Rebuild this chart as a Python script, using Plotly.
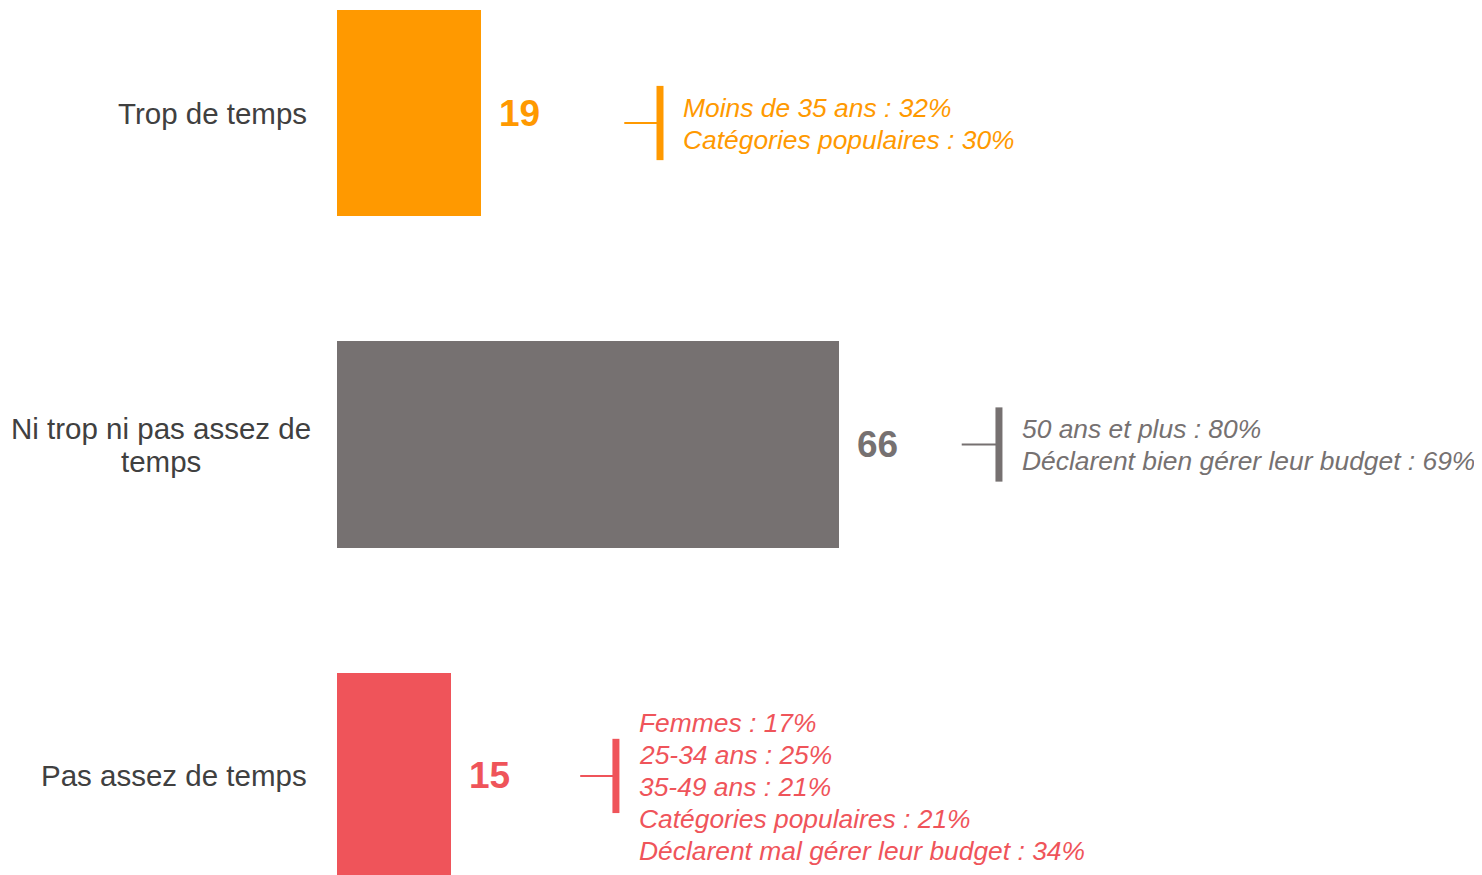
import plotly.graph_objects as go

# ---- data ----
categories = ["Trop de temps", "Ni trop ni pas assez de<br>temps", "Pas assez de temps"]
values = [19, 66, 15]
value_labels = ["19", "66", "15"]
details = [
    ["Moins de 35 ans : 32%", "Catégories populaires : 30%"],
    ["50 ans et plus : 80%", "Déclarent bien gérer leur budget : 69%"],
    ["Femmes : 17%", "25-34 ans : 25%", "35-49 ans : 21%",
     "Catégories populaires : 21%", "Déclarent mal gérer leur budget : 34%"],
]

# ---- styling ----
colors = ["#FF9900", "#767171", "#EF545A"]
label_color = "#404040"
font_family = "Liberation Sans, Arial, sans-serif"
# bracket horizontal start / vertical line x (data units) and y offsets
bracket_x0 = [37.8, 82.2, 32.0]
bracket_x1 = [42.5, 87.1, 36.7]
bracket_dy = [0.03, 0.0, 0.0]
text_dy = [0.033, 0.0, 0.033]
detail_line_px = 32
label_line_px = 33

ypos = list(range(len(categories)))

fig = go.Figure()
fig.add_trace(go.Bar(
    x=values, y=ypos, orientation="h",
    marker=dict(color=colors, line=dict(width=0)),
    width=0.622, hoverinfo="skip",
))

annotations = []
shapes = []
for i, (cat, v, vl, det, c) in enumerate(zip(categories, values, value_labels, details, colors)):
    # category label (one annotation per line for tight line spacing)
    lines = cat.split("<br>")
    n = len(lines)
    for k, ln in enumerate(lines):
        annotations.append(dict(
            x=0, xref="paper", y=i, yref="y", xanchor="center", yanchor="middle",
            xshift=-28 - 148, yshift=((n - 1) / 2 - k) * label_line_px,
            text=ln, showarrow=False, align="center",
            font=dict(family=font_family, size=29.5, color=label_color),
        ) if n > 1 else dict(
            x=0, xref="paper", y=i, yref="y", xanchor="right", yanchor="middle",
            xshift=-28, text=ln, showarrow=False,
            font=dict(family=font_family, size=29.5, color=label_color),
        ))
    # value label
    annotations.append(dict(
        x=v, xref="x", y=i, yref="y", xanchor="left", yanchor="middle",
        xshift=16, text=f"<b>{vl}</b>", showarrow=False,
        font=dict(family=font_family, size=37, color=c),
    ))
    # detail text
    m = len(det)
    for k, t in enumerate(det):
        annotations.append(dict(
            x=bracket_x1[i], xref="x", y=i + text_dy[i], yref="y",
            xanchor="left", yanchor="middle", xshift=21,
            yshift=((m - 1) / 2 - k) * detail_line_px,
            text=f"<i>{t}</i>", showarrow=False, align="left",
            font=dict(family=font_family, size=26.4, color=c),
        ))
    yc = i + bracket_dy[i]
    shapes.append(dict(type="line", xref="x", yref="y",
                       x0=bracket_x0[i], x1=bracket_x1[i], y0=yc, y1=yc,
                       line=dict(color=c, width=2)))
    shapes.append(dict(type="line", xref="x", yref="y",
                       x0=bracket_x1[i], x1=bracket_x1[i], y0=yc - 0.112, y1=yc + 0.112,
                       line=dict(color=c, width=7)))

fig.update_layout(
    width=1482, height=875,
    margin=dict(l=329, r=13, t=0, b=0),
    plot_bgcolor="white", paper_bgcolor="white",
    showlegend=False,
    xaxis=dict(range=[0, 150], visible=False, fixedrange=True),
    yaxis=dict(range=[2.323, -0.317], visible=False, fixedrange=True),
    annotations=annotations, shapes=shapes,
    bargap=0,
)

fig.write_html("out.html")
